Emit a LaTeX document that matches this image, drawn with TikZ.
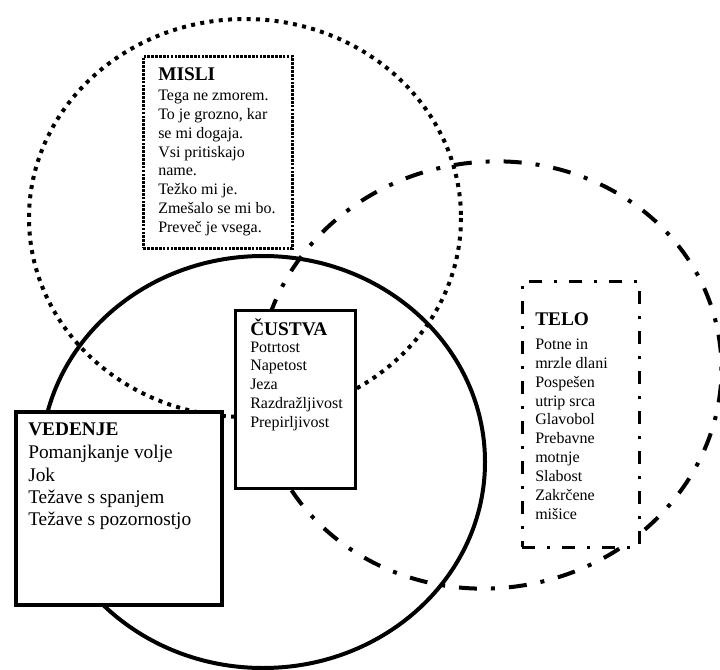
\documentclass[tikz,border=0pt]{standalone}
\usepackage{fontspec}
\setmainfont{Liberation Serif}
\tikzstyle{frame}=[draw, fill=white, inner sep=0, anchor=north west]
\tikzstyle{head}=[anchor=base west, inner sep=0, font=\fontsize{14.5}{17}\selectfont\bfseries]
\tikzstyle{list}=[anchor=north west, inner sep=0, align=left, font=\fontsize{12}{14.2}\selectfont]

\begin{document}
\begin{tikzpicture}[x=0.75pt, y=-0.75pt]

\useasboundingbox (0,0) rectangle (720,670);

\draw [line width=3pt, dash pattern=on 3pt off 4pt] (245,218) ellipse [x radius=216, y radius=199];
\draw [line width=3pt] (263,462) ellipse [x radius=222, y radius=206];
\draw [line width=3pt, dash pattern=on 13.5pt off 10.5pt on 3pt off 10.5pt, rotate around={10:(490,375)}] (490,375) ellipse [x radius=232, y radius=213];

\node [frame, line width=2.2pt, dash pattern=on 2pt off 0.9pt, minimum width=111.75pt, minimum height=144pt] (misli) at (142,55) {};
\node [head] (mislihead) at (158,81) {MISLI};
\node [list] (mislitext) at (158,89.5) {Tega ne zmorem.\\To je grozno, kar\\se mi dogaja.\\Vsi pritiskajo\\name.\\Težko mi je.\\Zmešalo se mi bo.\\Preveč je vsega.};

\node [frame, line width=2.6pt, minimum width=90pt, minimum height=133.5pt] (custva) at (234,309) {};
\node [head] (custvahead) at (250,335) {ČUSTVA};
\node [list, font=\fontsize{12}{14.06}\selectfont] (custvatext) at (250,341.4) {Potrtost\\Napetost\\Jeza\\Razdražljivost\\Prepirljivost};

\node [frame, line width=2pt, dash pattern=on 9.75pt off 9pt on 2.25pt off 9pt, minimum width=87.75pt, minimum height=199.5pt] (telo) at (521,280) {};
\node [head] (telohead) at (535,325) {TELO};
\node [list] (telotext) at (535,338.4) {Potne in\\mrzle dlani\\Pospešen\\utrip srca\\Glavobol\\Prebavne\\motnje\\Slabost\\Zakrčene\\mišice};

\node [frame, line width=3pt, minimum width=154.5pt, minimum height=144.75pt] (vedenje) at (14,410) {};
\node [head] (vedenjehead) at (28,435) {VEDENJE};
\node [list, font=\fontsize{14.5}{16.7}\selectfont] (vedenjetext) at (28,445.3) {Pomanjkanje volje\\Jok\\Težave s spanjem\\Težave s pozornostjo};

\end{tikzpicture}
\end{document}
